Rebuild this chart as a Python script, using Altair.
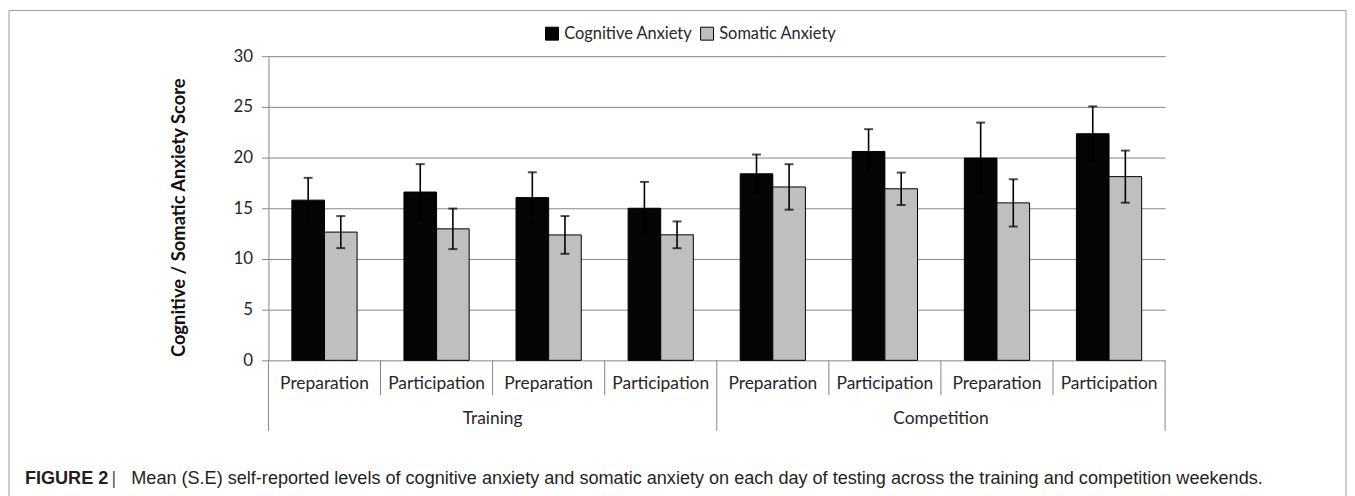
import altair as alt
import pandas as pd

# ---------------- data ----------------
weekends = ["Training", "Training", "Training", "Training",
            "Competition", "Competition", "Competition", "Competition"]
days = ["Preparation", "Participation", "Preparation", "Participation",
        "Preparation", "Participation", "Preparation", "Participation"]
series = ["Cognitive Anxiety", "Somatic Anxiety"]
cog_mean = [15.8, 16.6, 16.05, 15.0, 18.4, 20.6, 19.95, 22.35]
cog_se = [2.2, 2.75, 2.5, 2.6, 1.9, 2.2, 3.5, 2.7]
som_mean = [12.65, 12.97, 12.37, 12.38, 17.1, 16.92, 15.53, 18.12]
som_se = [1.58, 2.0, 1.86, 1.32, 2.24, 1.6, 2.33, 2.57]
y_ticks = [0, 5, 10, 15, 20, 25, 30]
y_title = "Cognitive / Somatic Anxiety Score"
caption_bold = "FIGURE 2"
caption_sep = "|"
caption_text = ("Mean (S.E) self-reported levels of cognitive anxiety and somatic anxiety "
                "on each day of testing across the training and competition weekends.")

# ---------------- tables ----------------
keys = [f"k{i}" for i in range(len(days))]
rows = []
for i, k in enumerate(keys):
    for s, m, e in ((series[0], cog_mean[i], cog_se[i]), (series[1], som_mean[i], som_se[i])):
        rows.append({"key": k, "day": days[i], "weekend": weekends[i], "series": s,
                     "mean": m, "lo": m - e, "hi": m + e})
df = pd.DataFrame(rows)
lab_df = pd.DataFrame({"key": keys, "day": days})

n = len(days)
group_names = list(dict.fromkeys(weekends))
outer_pos = [0] + [i for i in range(1, n) if weekends[i] != weekends[i - 1]] + [n]
inner_pos = [i for i in range(1, n) if i not in outer_pos]
sep_outer = pd.DataFrame({"pos": outer_pos})
sep_inner = pd.DataFrame({"pos": inner_pos})
grp_df = pd.DataFrame({
    "name": group_names,
    "pos": [sum(i + 0.5 for i in range(n) if weekends[i] == g) /
            sum(1 for w in weekends if w == g) for g in group_names],
})
one = pd.DataFrame({"a": [0]})

# ---------------- style ----------------
W, H = 902, 306
GRAY = "#858585"
FONT = "Lato"
TXT = "#262626"

xband = alt.X("key:N", scale=alt.Scale(domain=keys, paddingInner=0.418, paddingOuter=0.209),
              axis=None)
xoff = alt.XOffset("series:N", scale=alt.Scale(domain=series, paddingInner=0, paddingOuter=0))
yscale = alt.Scale(domain=[0, 30], nice=False, zero=True)
yaxis = alt.Axis(
    values=y_ticks, grid=True, gridColor=GRAY, gridWidth=1,
    domainColor=GRAY, tickColor=GRAY, tickSize=7, labelPadding=9,
    labelFont=FONT, labelFontSize=17, labelColor=TXT,
    titleFont=FONT, titleFontSize=18.5, titleFontWeight="bold",
    titleColor="#111111", titleX=-90, titleY=162, titleAngle=270,
    titleAlign="center", titleBaseline="middle")


def ych(field):
    return alt.Y(field, scale=yscale, axis=yaxis, title=y_title)


base = alt.Chart(df)

bars = base.mark_bar(stroke="black", strokeWidth=1).encode(
    x=xband, xOffset=xoff, y=ych("mean:Q"),
    fill=alt.Fill("series:N", scale=alt.Scale(domain=series, range=["#050505", "#bfbfbf"]),
                  legend=alt.Legend(title=None, orient="none", direction="horizontal",
                                    legendX=277, legendY=-31, symbolType="square",
                                    symbolSize=169, symbolStrokeColor="black",
                                    symbolStrokeWidth=1, labelFont=FONT, labelFontSize=16.5,
                                    labelColor=TXT, labelOffset=4, columnPadding=5,
                                    padding=0)),
)

err = base.mark_rule(color="black", strokeWidth=1.6).encode(
    x=xband, xOffset=xoff, y=ych("lo:Q"), y2="hi:Q",
)
cap_hi = base.mark_tick(color="black", thickness=2, size=9).encode(
    x=xband, xOffset=xoff, y=ych("hi:Q"),
)
cap_lo = base.mark_tick(color="black", thickness=2, size=9).encode(
    x=xband, xOffset=xoff, y=ych("lo:Q"),
)
day_labels = alt.Chart(lab_df).mark_text(font=FONT, fontSize=17.5, color=TXT,
                                          baseline="middle").encode(
    x=xband, text="day:N", y=alt.value(H + 24),
)

band_layer = alt.layer(bars, err, cap_hi, cap_lo, day_labels)

xq = alt.X("pos:Q", scale=alt.Scale(domain=[0, n], nice=False, zero=False), axis=None)
seps_in = alt.Chart(sep_inner).mark_rule(color=GRAY, strokeWidth=1).encode(
    x=xq, y=alt.value(H), y2=alt.value(H + 35),
)
seps_out = alt.Chart(sep_outer).mark_rule(color=GRAY, strokeWidth=1).encode(
    x=xq, y=alt.value(H), y2=alt.value(H + 71),
)
grp_labels = alt.Chart(grp_df).mark_text(font=FONT, fontSize=17.5, color=TXT,
                                         baseline="middle").encode(
    x=xq, text="name:N", y=alt.value(H + 59),
)

frame = alt.Chart(one).mark_rect(fillOpacity=0, stroke="#9a9a9a", strokeWidth=1).encode(
    x=alt.value(-261), x2=alt.value(1084), y=alt.value(-46), y2=alt.value(600),
)
CAPFONT = "Liberation Sans, Arial"
CAPSIZE = 18.2
cap1 = alt.Chart(one).mark_text(font=CAPFONT, fontSize=CAPSIZE, fontWeight="bold",
                                color="#231f20", align="left", baseline="middle").encode(
    x=alt.value(-245), y=alt.value(425), text=alt.value(caption_bold),
)
cap2 = alt.Chart(one).mark_text(font=CAPFONT, fontSize=CAPSIZE, color="#555555",
                                align="left", baseline="middle").encode(
    x=alt.value(-158), y=alt.value(425), text=alt.value(caption_sep),
)
cap3 = alt.Chart(one).mark_text(font=CAPFONT, fontSize=CAPSIZE, color="#231f20",
                                align="left", baseline="middle").encode(
    x=alt.value(-138), y=alt.value(425), text=alt.value(caption_text),
)

quant_layer = alt.layer(seps_in, seps_out, grp_labels, frame, cap1, cap2, cap3)

chart = alt.layer(band_layer, quant_layer).resolve_scale(x="independent").properties(
    width=W, height=H,
    autosize=alt.AutoSizeParams(type="none"),
    padding={"left": 262, "top": 47, "right": 183, "bottom": 135},
).configure_view(stroke=None)

chart.save("out.html", embed_options={"renderer": "svg", "actions": False})
